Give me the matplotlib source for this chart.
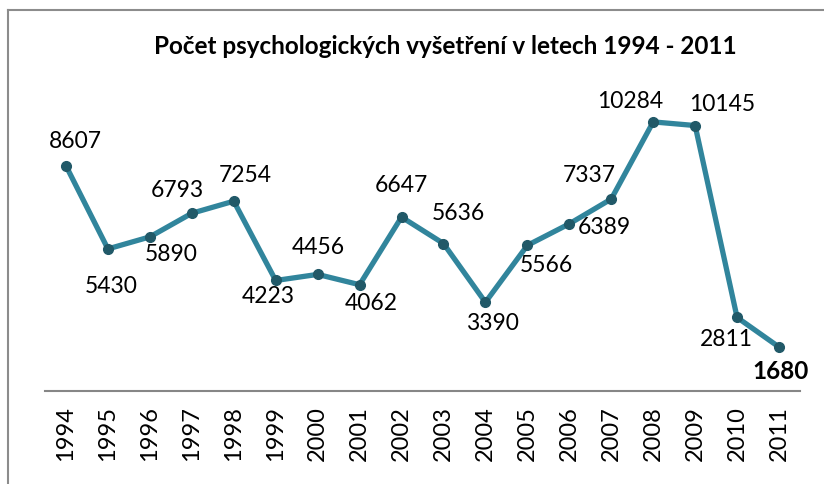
import matplotlib
matplotlib.use("Agg")
import matplotlib.pyplot as plt
from matplotlib.lines import Line2D

years = [str(y) for y in range(1994, 2012)]
counts = [8607, 5430, 5890, 6793, 7254, 4223, 4456, 4062, 6647,
          5636, 3390, 5566, 6389, 7337, 10284, 10145, 2811, 1680]
title = "Počet psychologických vyšetření v letech 1994 - 2011"

# label offsets in pixels (dx, dy), dy positive = up
offsets = [(9, 25), (3, -37), (21, -17), (-14, 24), (11, 27), (-7, -15),
           (1, 28), (12, -18), (0, 33), (15, 31), (7, -20), (19, -19),
           (35, -3), (-22, 25), (-23, 21), (27, 22), (-11, -21), (1, -23)]

plt.rcParams['font.family'] = ['Lato', 'DejaVu Sans']

W, H = 824, 485
fig = plt.figure(figsize=(W / 100, H / 100), dpi=100)
ax = fig.add_axes([45 / W, 1 - 392 / H, 755 / W, 314 / H])

x = [i + 0.5 for i in range(len(years))]
ax.plot(x, counts, color="#31859C", lw=3.8, marker="o", ms=7,
        mfc="#215968", mec="#215968", solid_joinstyle="round", zorder=3)

for i, (xi, v) in enumerate(zip(x, counts)):
    dx, dy = offsets[i]
    last = i == len(counts) - 1
    ax.annotate(str(v), (xi, v), xytext=(dx * 0.72, dy * 0.72),
                textcoords="offset points", ha="center", va="center",
                fontsize=17.5 if last else 16.5,
                fontweight="bold" if last else "normal", color="black")

ax.set_xlim(0, len(years))
ax.set_ylim(0, 12000)
ax.set_xticks(x)
ax.set_xticklabels(years, rotation=90, fontsize=17, va="top")
ax.tick_params(axis="x", length=0, pad=10)
ax.set_yticks([])
for s in ["top", "right", "left"]:
    ax.spines[s].set_visible(False)
ax.spines["bottom"].set_color("#868686")
ax.spines["bottom"].set_linewidth(1.5)

fig.text(445 / W, 1 - 47 / H, title, ha="center", va="center",
         fontsize=17.5, fontweight="bold")

# outer chart frame
fig.add_artist(Line2D([8 / W, 1], [1 - 10.5 / H, 1 - 10.5 / H],
                      transform=fig.transFigure, color="#8c8c8c", lw=1.5))
fig.add_artist(Line2D([8 / W, 8 / W], [0, 1 - 10.5 / H],
                      transform=fig.transFigure, color="#8c8c8c", lw=1.5))

fig.savefig("out.png", dpi=100)
